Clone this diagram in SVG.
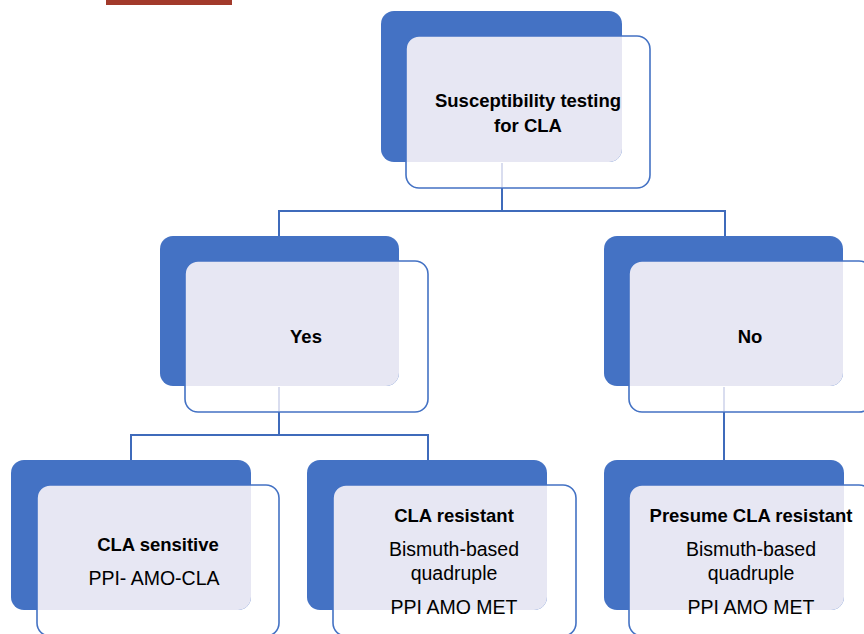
<svg xmlns="http://www.w3.org/2000/svg" width="864" height="634" viewBox="0 0 864 634">
<style>
.back{fill:#4472c4}
.front{fill:none;stroke:#4472c4;stroke-width:1.6}
.tint{fill:#e7e7f3}
.conn{fill:none;stroke:#3f6bbb;stroke-width:2}
.faint{stroke:#d9ddef;stroke-width:2}
text{font-family:"Liberation Sans",Arial,sans-serif;font-size:19.5px;fill:#000;text-anchor:middle}
.b{font-weight:bold;font-size:18.5px}
</style>
<defs>
<clipPath id="c1"><rect x="381" y="11" width="241" height="151" rx="13"/></clipPath>
<clipPath id="c2"><rect x="160" y="236" width="239" height="150" rx="13"/></clipPath>
<clipPath id="c3"><rect x="604" y="236" width="239" height="150" rx="13"/></clipPath>
<clipPath id="c4"><rect x="11" y="460" width="240" height="150" rx="13"/></clipPath>
<clipPath id="c5"><rect x="307" y="460" width="240" height="150" rx="13"/></clipPath>
<clipPath id="c6"><rect x="604" y="460" width="240" height="150" rx="13"/></clipPath>
</defs>
<rect x="106" y="0" width="126" height="5" fill="#a23a2b"/>
<g id="connectors">
<path class="conn" d="M502 188V211M279 211H725M279 210V236M725 210V236"/>
<path class="conn" d="M279 412V435M131 435H428M131 434V460M428 434V460"/>
<path class="conn" d="M724 412V460"/>
</g>
<g id="node-top">
<rect class="back" x="381" y="11" width="241" height="151" rx="13"/>
<rect class="tint" x="406" y="36" width="244" height="152" rx="13" clip-path="url(#c1)"/>
<line class="faint" x1="502" y1="163" x2="502" y2="187"/>
<rect class="front" x="406" y="36" width="244" height="152" rx="13"/>
<text class="b" x="528" y="107">Susceptibility testing</text>
<text class="b" x="528" y="132">for CLA</text>
</g>
<g id="node-yes">
<rect class="back" x="160" y="236" width="239" height="150" rx="13"/>
<rect class="tint" x="185" y="261" width="243" height="151" rx="13" clip-path="url(#c2)"/>
<line class="faint" x1="279" y1="387" x2="279" y2="411"/>
<rect class="front" x="185" y="261" width="243" height="151" rx="13"/>
<text class="b" x="306" y="343">Yes</text>
</g>
<g id="node-no">
<rect class="back" x="604" y="236" width="239" height="150" rx="13"/>
<rect class="tint" x="629" y="261" width="243" height="151" rx="13" clip-path="url(#c3)"/>
<line class="faint" x1="724" y1="387" x2="724" y2="411"/>
<rect class="front" x="629" y="261" width="243" height="151" rx="13"/>
<text class="b" x="750" y="343">No</text>
</g>
<g id="node-sensitive">
<rect class="back" x="11" y="460" width="240" height="150" rx="13"/>
<rect class="tint" x="37" y="485" width="242" height="151" rx="13" clip-path="url(#c4)"/>
<rect class="front" x="37" y="485" width="242" height="151" rx="13"/>
<text class="b" x="158" y="551">CLA sensitive</text>
<text x="154" y="585">PPI- AMO-CLA</text>
</g>
<g id="node-resistant">
<rect class="back" x="307" y="460" width="240" height="150" rx="13"/>
<rect class="tint" x="333" y="485" width="243" height="151" rx="13" clip-path="url(#c5)"/>
<rect class="front" x="333" y="485" width="243" height="151" rx="13"/>
<text class="b" x="454" y="522">CLA resistant</text>
<text x="454" y="556">Bismuth-based</text>
<text x="454" y="580">quadruple</text>
<text x="454" y="614">PPI AMO MET</text>
</g>
<g id="node-presume">
<rect class="back" x="604" y="460" width="240" height="150" rx="13"/>
<rect class="tint" x="629" y="485" width="243" height="151" rx="13" clip-path="url(#c6)"/>
<rect class="front" x="629" y="485" width="243" height="151" rx="13"/>
<text class="b" x="751" y="522">Presume CLA resistant</text>
<text x="751" y="556">Bismuth-based</text>
<text x="751" y="580">quadruple</text>
<text x="751" y="614">PPI AMO MET</text>
</g>
</svg>
